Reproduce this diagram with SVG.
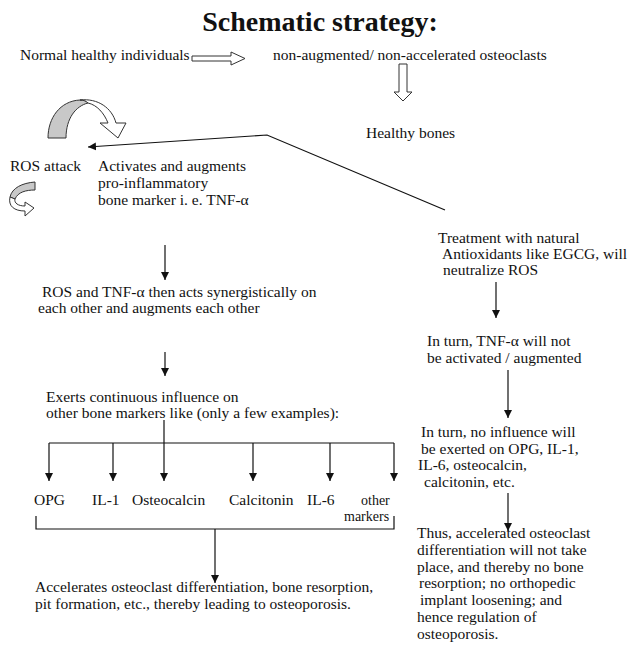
<svg xmlns="http://www.w3.org/2000/svg" width="629" height="647" viewBox="0 0 629 647">
<style>
text{font-family:"Liberation Serif","Times New Roman",serif;font-size:15.5px;fill:#111}
.title{font-size:28px;font-weight:bold;text-anchor:middle}
.sm{font-size:14px}
.ln{stroke:#111;stroke-width:1.2;fill:none}
.hollow{fill:#fff;stroke:#333;stroke-width:1}
.gray{fill:#c8c8c8;stroke:#333;stroke-width:1}
</style>
<defs>
<marker id="ah" markerUnits="userSpaceOnUse" markerWidth="9" markerHeight="8" refX="8" refY="4" orient="auto">
<path d="M0,0 L8,4 L0,8 z" fill="#111"/>
</marker>
</defs>
<rect width="629" height="647" fill="#fff"/>
<text class="title" x="320" y="31">Schematic strategy:</text>

<g id="n-normal"><text x="20" y="60">Normal healthy individuals</text></g>
<g id="n-nonaug"><text x="273" y="60">non-augmented/ non-accelerated osteoclasts</text></g>
<g id="n-healthy"><text x="366" y="138">Healthy bones</text></g>
<g id="n-ros"><text x="10" y="171">ROS attack</text></g>
<g id="n-activates">
<text x="98" y="171">Activates and augments</text>
<text x="98" y="188">pro-inflammatory</text>
<text x="98" y="205">bone marker i. e. TNF-α</text>
</g>
<g id="n-synergy">
<text x="42" y="297">ROS and TNF-α then acts synergistically on</text>
<text x="38" y="313">each other and augments each other</text>
</g>
<g id="n-exerts">
<text x="46" y="402">Exerts continuous influence on</text>
<text x="46" y="418">other bone markers like (only a few examples):</text>
</g>
<g id="n-opg"><text x="34" y="505">OPG</text></g>
<g id="n-il1"><text x="92" y="505">IL-1</text></g>
<g id="n-osteocalcin"><text x="132" y="505">Osteocalcin</text></g>
<g id="n-calcitonin"><text x="229" y="505">Calcitonin</text></g>
<g id="n-il6"><text x="307" y="505">IL-6</text></g>
<g id="n-other"><text class="sm" x="361" y="505">other</text><text class="sm" x="344" y="521">markers</text></g>
<g id="n-accel">
<text x="35" y="592">Accelerates osteoclast differentiation, bone resorption,</text>
<text x="35" y="609">pit formation, etc., thereby leading to osteoporosis.</text>
</g>
<g id="n-treatment">
<text x="438" y="243">Treatment with natural</text>
<text x="442" y="259">Antioxidants like EGCG, will</text>
<text x="443" y="275">neutralize ROS</text>
</g>
<g id="n-tnfnot">
<text x="427" y="346">In turn, TNF-α will not</text>
<text x="427" y="363">be activated / augmented</text>
</g>
<g id="n-noinfl">
<text x="421" y="437">In turn, no influence will</text>
<text x="421" y="454">be exerted on OPG, IL-1,</text>
<text x="418" y="470">IL-6, osteocalcin,</text>
<text x="424" y="487">calcitonin, etc.</text>
</g>
<g id="n-thus">
<text x="417" y="538">Thus, accelerated osteoclast</text>
<text x="417" y="555">differentiation will not take</text>
<text x="417" y="572">place, and thereby no bone</text>
<text x="419" y="588">resorption; no orthopedic</text>
<text x="420" y="605">implant loosening; and</text>
<text x="417" y="622">hence regulation of</text>
<text x="417" y="639">osteoporosis.</text>
</g>
<g id="n-curve-big">
<path class="gray" d="M48,138 C48,118 60,101 80,100 C84,100 86,101 88,103 C76,106 66,118 66,138 Z"/>
<path class="hollow" d="M80,100 C98,98 112,108 116,123 L126,123 L118,138 L100,123 L108,123 C104,113 97,105 88,103 C86,101 84,100 80,100 Z"/>
</g>
<g id="n-curve-small">
<path class="gray" d="M35,182 L35,190 C26,190 18,192 15,199 L10,197 C12,188 22,183 35,182 Z"/>
<path class="hollow" d="M10,197 C8,206 14,211 25,211 L25,216 L34,208 L25,202 L25,206 C18,206 14,203 15,199 Z"/>
</g>
<g id="n-arrow-right">
<path class="hollow" d="M192,56 L231,56 L231,52 L245,58.5 L231,65 L231,61 L192,61 Z"/>
</g>
<g id="n-arrow-down">
<path class="hollow" d="M399,64 L407,64 L407,92 L412,92 L403,101 L394,92 L399,92 Z"/>
</g>
<g id="connectors">
<polyline class="ln" points="445,210 267,135 88,147" marker-end="url(#ah)"/>
<line class="ln" x1="165" y1="245" x2="165" y2="280" marker-end="url(#ah)"/>
<line class="ln" x1="165" y1="352" x2="165" y2="376" marker-end="url(#ah)"/>
<line class="ln" x1="164" y1="420" x2="164" y2="443"/>
<line class="ln" x1="49" y1="443" x2="394" y2="443"/>
<line class="ln" x1="49" y1="443" x2="49" y2="481" marker-end="url(#ah)"/>
<line class="ln" x1="113" y1="443" x2="113" y2="481" marker-end="url(#ah)"/>
<line class="ln" x1="164" y1="443" x2="164" y2="481" marker-end="url(#ah)"/>
<line class="ln" x1="253" y1="443" x2="253" y2="481" marker-end="url(#ah)"/>
<line class="ln" x1="330" y1="443" x2="330" y2="481" marker-end="url(#ah)"/>
<line class="ln" x1="394" y1="443" x2="394" y2="481" marker-end="url(#ah)"/>
<polyline class="ln" points="36,516 36,529 394,529 394,516"/>
<line class="ln" x1="215" y1="529" x2="215" y2="583" marker-end="url(#ah)"/>
<line class="ln" x1="496" y1="282" x2="496" y2="318" marker-end="url(#ah)"/>
<line class="ln" x1="508" y1="370" x2="508" y2="418" marker-end="url(#ah)"/>
<line class="ln" x1="508" y1="493" x2="508" y2="531" marker-end="url(#ah)"/>
</g>
</svg>
